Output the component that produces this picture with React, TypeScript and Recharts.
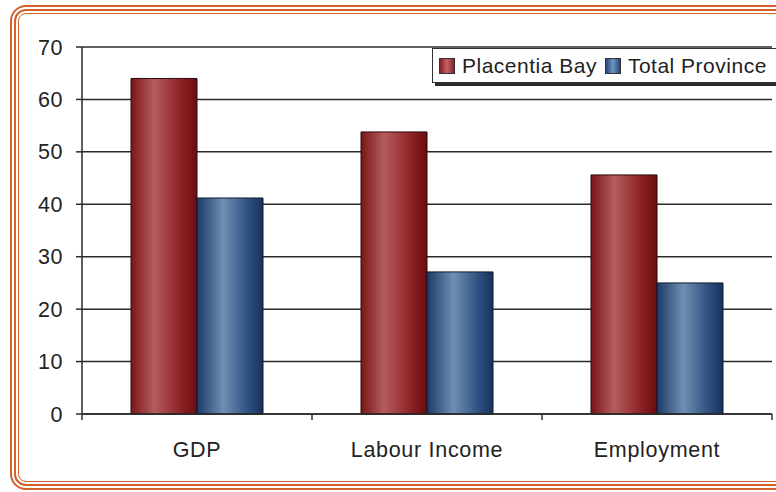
import { BarChart, Bar, XAxis, YAxis, CartesianGrid, Legend } from "recharts";

const categories = ["GDP", "Labour Income", "Employment"];
const placentiaBay = [64, 53.8, 45.6];
const totalProvince = [41.2, 27.1, 25];
const yTicks = [0, 10, 20, 30, 40, 50, 60, 70];

const data = categories.map((name, i) => ({
  name,
  placentia: placentiaBay[i],
  province: totalProvince[i],
}));

const W = 776;
const H = 492;
const margin = { top: 47, right: 4, bottom: 48, left: 0 };
const yAxisWidth = 82;
const band = (W - margin.right - margin.left - yAxisWidth) / categories.length;
const font = "'Liberation Sans', Arial, sans-serif";
const orange = "#d2612c";

const CategoryTick = (props: any) => {
  const { x, y, payload, index } = props;
  const last = index === categories.length - 1;
  return (
    <g>
      <line x1={x - band / 2} x2={x - band / 2} y1={y} y2={y + 6} stroke="#333" strokeWidth={1.5} />
      {last && <line x1={x + band / 2} x2={x + band / 2} y1={y} y2={y + 6} stroke="#333" strokeWidth={1.5} />}
      <text x={x} y={y + 43} textAnchor="middle" fill="#222" fontSize={21.5} fontFamily={font} letterSpacing={0.7}>
        {payload.value}
      </text>
    </g>
  );
};

const swatch = (bg: string) => ({
  display: "inline-block",
  width: 14,
  height: 14,
  border: "1px solid #333",
  background: bg,
  marginRight: 7,
  verticalAlign: "-1px",
});

const LegendBox = () => (
  <div
    style={{
      background: "#fff",
      border: "1px solid #333",
      boxShadow: "3px 3px 0 #2a2a2a",
      height: 33,
      lineHeight: "33px",
      paddingLeft: 6,
      whiteSpace: "nowrap",
      fontFamily: font,
      fontSize: 21,
      letterSpacing: 0.5,
      color: "#222",
    }}
  >
    <span style={swatch("linear-gradient(90deg,#8a2024,#c26468,#8a2024)")} />
    <span style={{ marginRight: 8 }}>Placentia Bay</span>
    <span style={swatch("linear-gradient(90deg,#24487a,#6f95c0,#24487a)")} />
    <span>Total Province</span>
  </div>
);

const frame = (inset: number, width: number, radius: number) => ({
  position: "absolute" as const,
  left: 10 + inset,
  top: 5 + inset,
  width: 900,
  height: 485 - inset * 2,
  boxSizing: "border-box" as const,
  border: `${width}px solid ${orange}`,
  borderRadius: radius,
});

export default function App() {
  return (
    <div style={{ position: "absolute", left: 0, top: 0, width: W, height: H, overflow: "hidden", background: "#fff" }}>
      <div style={frame(0, 2.5, 16)} />
      <div style={frame(4, 2, 12)} />
      <div style={frame(8, 1.5, 8)} />
      <div style={{ position: "absolute", left: 0, top: 0 }}>
        <BarChart width={W} height={H} data={data} margin={margin} barGap={0} barSize={66}>
          <defs>
            <linearGradient id="redBar" x1="0" y1="0" x2="1" y2="0">
              <stop offset="0%" stopColor="#7a1518" />
              <stop offset="35%" stopColor="#b45c5e" />
              <stop offset="75%" stopColor="#8e2326" />
              <stop offset="100%" stopColor="#6a0c0e" />
            </linearGradient>
            <linearGradient id="blueBar" x1="0" y1="0" x2="1" y2="0">
              <stop offset="0%" stopColor="#1b3a68" />
              <stop offset="40%" stopColor="#6f90b2" />
              <stop offset="78%" stopColor="#2e5080" />
              <stop offset="100%" stopColor="#17325a" />
            </linearGradient>
          </defs>
          <CartesianGrid vertical={false} stroke="#2a2a2a" strokeWidth={1.5} />
          <XAxis
            dataKey="name"
            height={30}
            tickSize={0}
            tickMargin={0}
            tickLine={false}
            axisLine={{ stroke: "#2a2a2a", strokeWidth: 1.5 }}
            tick={<CategoryTick />}
            interval={0}
          />
          <YAxis
            width={yAxisWidth}
            domain={[0, 70]}
            ticks={yTicks}
            interval={0}
            tickSize={6}
            tickMargin={13}
            axisLine={{ stroke: "#2a2a2a", strokeWidth: 1.5 }}
            tickLine={{ stroke: "#2a2a2a", strokeWidth: 1.5 }}
            tick={{ fill: "#222", fontSize: 21.5, fontFamily: font, letterSpacing: 0.5 }}
          />
          <YAxis
            yAxisId="right"
            orientation="right"
            width={0}
            domain={[0, 70]}
            tick={false}
            tickLine={false}
            axisLine={{ stroke: "#2a2a2a", strokeWidth: 1.5 }}
          />
          <Legend
            layout="vertical"
            align="center"
            verticalAlign="middle"
            wrapperStyle={{ left: 432, top: 48, width: 420 }}
            content={() => <LegendBox />}
          />
          <Bar dataKey="placentia" name="Placentia Bay" fill="url(#redBar)" stroke="#2a0a0a" strokeWidth={1} isAnimationActive={false} />
          <Bar dataKey="province" name="Total Province" fill="url(#blueBar)" stroke="#0e1a2e" strokeWidth={1} isAnimationActive={false} />
        </BarChart>
      </div>
    </div>
  );
}
